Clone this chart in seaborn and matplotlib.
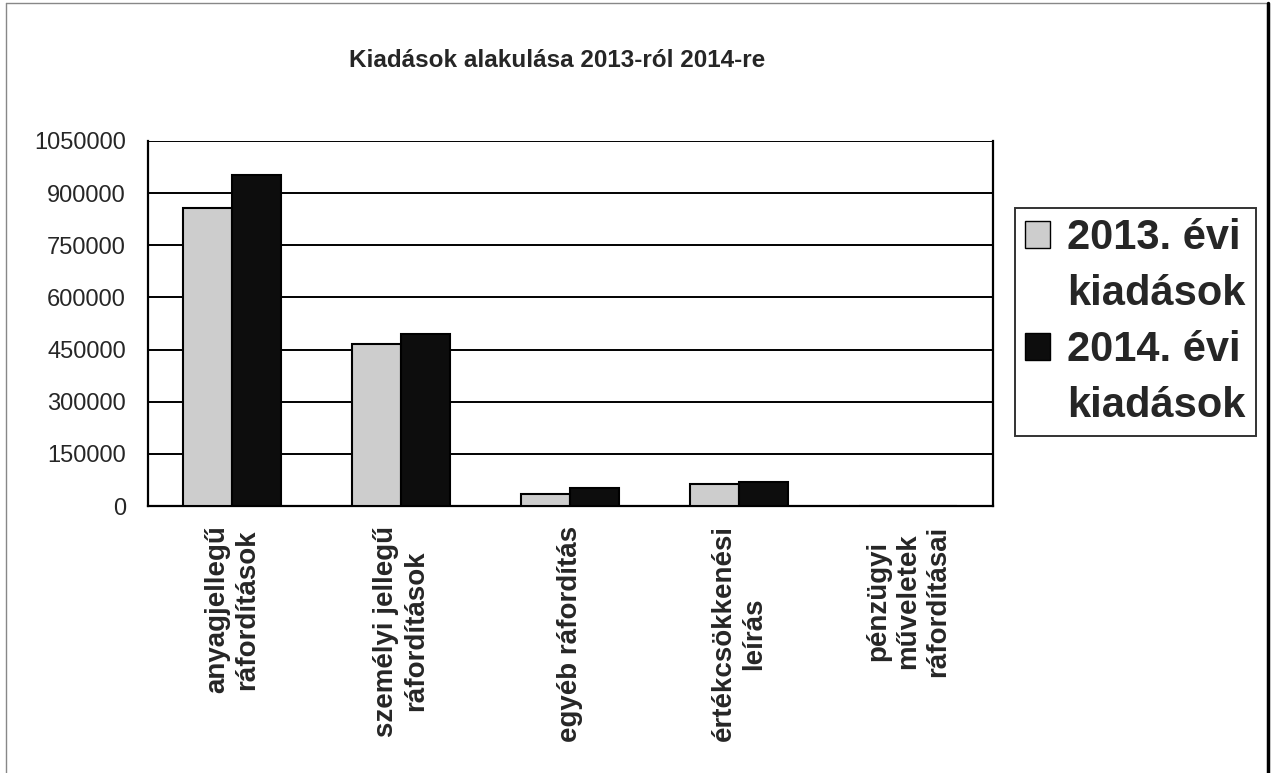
import matplotlib
matplotlib.use("Agg")
import matplotlib.pyplot as plt
import seaborn as sns
import pandas as pd
import numpy as np
from matplotlib.lines import Line2D

# data
categories = [
    "anyagjellegű\nráfordítások",
    "személyi jellegű\nráfordítások",
    "egyéb ráfordítás",
    "értékcsökkenési\nleírás",
    "pénzügyi\nműveletek\nráfordításai",
]
series_names = ["2013. évi\nkiadások", "2014. évi\nkiadások"]
values_2013 = [858000, 465000, 33500, 64000, 0]
values_2014 = [951000, 495000, 52500, 69000, 0]
y_ticks = [0, 150000, 300000, 450000, 600000, 750000, 900000, 1050000]
title = "Kiadások alakulása 2013-ról 2014-re"
colors = ["#cdcdcd", "#0d0d0d"]

df = pd.DataFrame({
    "kategoria": categories * 2,
    "ev": [series_names[0]] * len(categories) + [series_names[1]] * len(categories),
    "ertek": values_2013 + values_2014,
})

sns.set_style("white")
plt.rcParams['font.family'] = ['Liberation Sans', 'DejaVu Sans']

fig = plt.figure(figsize=(12.76, 7.73), dpi=100)
ax = fig.add_axes([0.116, 0.3454, 0.662, 0.4722])

sns.barplot(data=df, x="kategoria", y="ertek", hue="ev",
            palette=colors, edgecolor="black", linewidth=1.5,
            width=0.58, gap=0, ax=ax, legend=False, zorder=3)

ax.set_ylim(0, 1050000)
ax.set_xlim(-0.5, len(categories) - 0.5)
ax.set_yticks(y_ticks)
ax.set_yticklabels([str(v) for v in y_ticks], fontsize=17)
ax.yaxis.grid(True, color="black", linewidth=1.4, zorder=0)
ax.set_axisbelow(True)
ax.tick_params(axis="y", direction="out", length=8, width=1.4, color="black", pad=8)

# category labels at centers, tick marks at the boundaries
ax.tick_params(axis="x", which="major", length=0, pad=14)
ax.set_xticks(np.arange(-0.5, len(categories)), minor=True)
ax.tick_params(axis="x", which="minor", direction="out", length=8, width=1.4, color="black")
for lab in ax.get_xticklabels():
    lab.set_rotation(90)
    lab.set_fontweight("bold")
    lab.set_fontsize(20)
    lab.set_va("top")
    lab.set_ha("center")
    lab.set_multialignment("center")

ax.set_xlabel("")
ax.set_ylabel("")
for side in ["left", "bottom", "right"]:
    ax.spines[side].set_visible(True)
    ax.spines[side].set_color("black")
    ax.spines[side].set_linewidth(1.6)
ax.spines["top"].set_visible(False)

fig.text(0.437, 1 - 67 / 773, title, ha="center", va="baseline", fontsize=17.5,
         fontweight="bold")

# legend: the swatch sits next to the first line of each label
handles, labels = [], []
for name, col in zip(series_names, colors):
    lines = name.split("\n")
    handles.append(plt.Rectangle((0, 0), 1, 1, facecolor=col, edgecolor="black", linewidth=1))
    labels.append(lines[0])
    for extra in lines[1:]:
        handles.append(plt.Rectangle((0, 0), 1, 1, facecolor="none", edgecolor="none"))
        labels.append(extra)
leg = fig.legend(handles, labels, loc="upper left", bbox_to_anchor=(1015 / 1276, 1 - 208 / 773),
                 prop={"weight": "bold", "size": 30}, frameon=True, fancybox=False,
                 handlelength=0.6, handleheight=0.6, handletextpad=0.4,
                 borderpad=0.25, labelspacing=0.38, borderaxespad=0)
leg.get_frame().set_edgecolor("black")
leg.get_frame().set_linewidth(1.4)

# outer frame of the chart
fig.add_artist(Line2D([0.005, 0.994], [0.996, 0.996], color="#888888", linewidth=1, transform=fig.transFigure))
fig.add_artist(Line2D([0.005, 0.005], [0.0, 0.996], color="#888888", linewidth=1, transform=fig.transFigure))
fig.add_artist(Line2D([0.994, 0.994], [0.0, 0.996], color="black", linewidth=2.5, transform=fig.transFigure))

fig.savefig("out.png", dpi=100)
